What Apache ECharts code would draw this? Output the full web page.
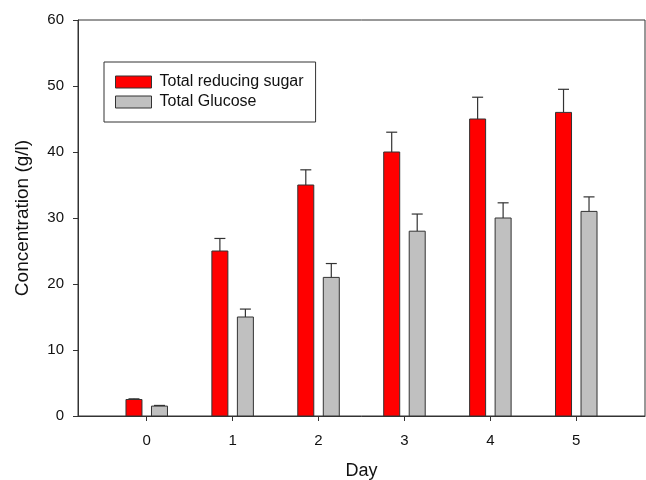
<!DOCTYPE html>
<html>
<head>
<meta charset="utf-8">
<script src="https://cdn.jsdelivr.net/npm/echarts@6/dist/echarts.min.js"></script>
<style>html,body{margin:0;padding:0;background:#fff}#c{width:646px;height:480px}</style>
</head>
<body>
<div id="c"></div>
<script>
var days = [0, 1, 2, 3, 4, 5];
var reducingSugar = [2.5, 25, 35, 40, 45, 46];
var reducingSugarErr = [0.1, 1.9, 2.3, 3.0, 3.3, 3.5];
var glucose = [1.5, 15, 21, 28, 30, 31];
var glucoseErr = [0.1, 1.2, 2.1, 2.6, 2.3, 2.2];
var yTicks = [0, 10, 20, 30, 40, 50, 60];
var seriesNames = ['Total reducing sugar', 'Total Glucose'];

var FONT = '"Liberation Sans", Arial, sans-serif';
var BAR_W = 16, OFFSET = 12.75, CAP = 5.5;

function makeRender(values, errs, dir, fill) {
  return function (params, api) {
    var i = params.dataIndex;
    var x = api.value(0);
    var base = api.coord([x, 0]);
    var top = api.coord([x, values[i]]);
    var errTop = api.coord([x, values[i] + errs[i]]);
    var cx = base[0] + dir * OFFSET;
    return {
      type: 'group',
      children: [
        { type: 'line', shape: { x1: cx, y1: top[1], x2: cx, y2: errTop[1] },
          style: { stroke: '#333', lineWidth: 1.2 } },
        { type: 'line', shape: { x1: cx - CAP, y1: errTop[1], x2: cx + CAP, y2: errTop[1] },
          style: { stroke: '#333', lineWidth: 1.2 } },
        { type: 'rect', shape: { x: cx - BAR_W / 2, y: top[1], width: BAR_W, height: base[1] - top[1] },
          style: { fill: fill, stroke: '#333', lineWidth: 1 } }
      ]
    };
  };
}

var chart = echarts.init(document.getElementById('c'), null, { renderer: 'canvas' });
chart.setOption({
  animation: false,
  textStyle: { fontFamily: FONT },
  grid: { left: 78, right: 1, top: 20, bottom: 64, show: true, borderColor: '#333', borderWidth: 1,
    containLabel: false, outerBoundsMode: 'none' },
  legend: {
    orient: 'vertical', left: 104, top: 62,
    padding: [12, 12, 12, 11],
    itemGap: 4, itemWidth: 36, itemHeight: 12,
    borderColor: '#333', borderWidth: 1,
    textStyle: { fontSize: 16, color: '#111', fontFamily: FONT, padding: [0, 0, 0, 3] },
    data: [
      { name: seriesNames[0], icon: 'rect', itemStyle: { color: '#ff0000', borderColor: '#333', borderWidth: 1 } },
      { name: seriesNames[1], icon: 'rect', itemStyle: { color: '#c0c0c0', borderColor: '#333', borderWidth: 1 } }
    ]
  },
  xAxis: {
    type: 'value', min: -0.8, max: 5.8, interval: 1,
    name: 'Day', nameLocation: 'middle', nameGap: 46,
    nameTextStyle: { fontSize: 18, color: '#111', fontFamily: FONT },
    splitLine: { show: false },
    axisLine: { onZero: false, lineStyle: { color: '#333', width: 1 } },
    axisTick: { show: true, length: 5, inside: false, lineStyle: { color: '#333' },
      customValues: days },
    axisLabel: { fontSize: 15, color: '#111', margin: 17, fontFamily: FONT,
      customValues: days }
  },
  yAxis: {
    type: 'value', min: 0, max: 60, interval: 10,
    name: 'Concentration (g/l)', nameLocation: 'middle', nameGap: 46,
    nameTextStyle: { fontSize: 19, color: '#111', fontFamily: FONT },
    splitLine: { show: false },
    axisLine: { show: true, onZero: false, lineStyle: { color: '#333', width: 1 } },
    axisTick: { show: true, length: 5, lineStyle: { color: '#333' }, customValues: yTicks },
    axisLabel: { fontSize: 15, color: '#111', margin: 14, fontFamily: FONT, customValues: yTicks }
  },
  series: [
    {
      name: seriesNames[0], type: 'custom',
      itemStyle: { color: '#ff0000', borderColor: '#333', borderWidth: 1 },
      renderItem: makeRender(reducingSugar, reducingSugarErr, -1, '#ff0000'),
      data: days.map(function (d, i) { return [d, reducingSugar[i]]; })
    },
    {
      name: seriesNames[1], type: 'custom',
      itemStyle: { color: '#c0c0c0', borderColor: '#333', borderWidth: 1 },
      renderItem: makeRender(glucose, glucoseErr, 1, '#c0c0c0'),
      data: days.map(function (d, i) { return [d, glucose[i]]; })
    }
  ]
});
</script>
</body>
</html>
